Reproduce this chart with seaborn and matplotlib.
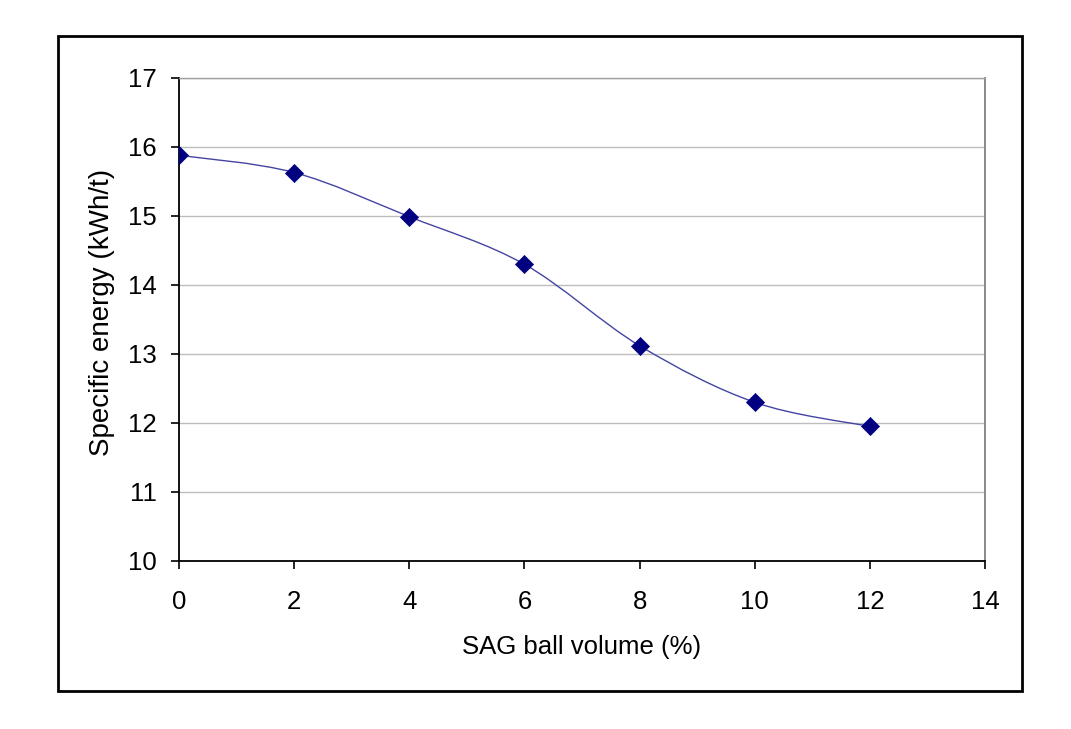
import numpy as np
import matplotlib
matplotlib.use("Agg")
import matplotlib.pyplot as plt
from matplotlib.path import Path
from matplotlib.patches import PathPatch, Rectangle
import seaborn as sns
import pandas as pd

# Data
ball_volume = [0, 2, 4, 6, 8, 10, 12]
specific_energy = [15.88, 15.63, 14.99, 14.30, 13.12, 12.30, 11.95]
x_ticks = [0, 2, 4, 6, 8, 10, 12, 14]
y_ticks = [10, 11, 12, 13, 14, 15, 16, 17]
x_label = "SAG ball volume (%)"
y_label = "Specific energy (kWh/t)"

sns.set_style("white")
plt.rcParams['font.family'] = ['Liberation Sans', 'DejaVu Sans']

fig = plt.figure(figsize=(10.71, 7.29), dpi=100)
ax = fig.add_axes([179/1071, 1-561/729, (985-179)/1071, (561-78)/729])

df = pd.DataFrame({"x": ball_volume, "y": specific_energy})

# Excel-like smoothed line: Catmull-Rom Bezier through the data points
pts = np.column_stack([ball_volume, specific_energy]).astype(float)
ext = np.vstack([pts[0], pts, pts[-1]])
verts = [tuple(pts[0])]
codes = [Path.MOVETO]
for i in range(len(pts) - 1):
    p0, p1, p2, p3 = ext[i], ext[i+1], ext[i+2], ext[i+3]
    c1 = p1 + (p2 - p0) / 6.0
    c2 = p2 - (p3 - p1) / 6.0
    verts += [tuple(c1), tuple(c2), tuple(p2)]
    codes += [Path.CURVE4] * 3
patch = PathPatch(Path(verts, codes), facecolor='none', edgecolor='#4444a4',
                  linewidth=1.0, zorder=3)
ax.add_patch(patch)

sns.scatterplot(data=df, x="x", y="y", marker="D", s=85, color="#000080",
                edgecolor="#000080", linewidth=0.5, ax=ax, zorder=4, legend=False)

ax.set_xlim(0, 14)
ax.set_ylim(10, 17)
ax.set_xticks(x_ticks)
ax.set_yticks(y_ticks)
ax.set_xticklabels([str(t) for t in x_ticks])
ax.set_yticklabels([str(t) for t in y_ticks])
ax.yaxis.grid(True, color='#bdbdbd', linewidth=1.0)
ax.xaxis.grid(False)
ax.set_axisbelow(True)

for side in ['left', 'bottom']:
    ax.spines[side].set_color('black')
    ax.spines[side].set_linewidth(1.3)
ax.spines['top'].set_color('#a0a0a0')
ax.spines['top'].set_linewidth(1.0)
ax.spines['right'].set_color('#808080')
ax.spines['right'].set_linewidth(1.3)

ax.tick_params(axis='both', which='major', direction='out', length=6, width=1.2,
               color='black', labelsize=18.5, labelcolor='black')
ax.tick_params(axis='y', pad=10, left=True)
ax.tick_params(axis='x', pad=15, bottom=True)

ax.set_xlabel(x_label, fontsize=18.5, labelpad=15, color='black')
ax.set_ylabel(y_label, fontsize=20, color='black', va='center')
ax.yaxis.set_label_coords(-0.095, 0.5155)

fig.patches.append(Rectangle((58/1071, 1-691/729), (1022-58)/1071, (691-36)/729,
                             transform=fig.transFigure, fill=False,
                             edgecolor='black', linewidth=2.0))

fig.savefig("out.png", dpi=100)
